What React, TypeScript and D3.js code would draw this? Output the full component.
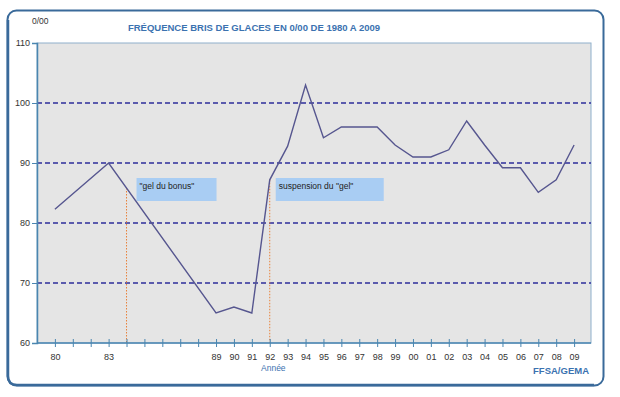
import { useEffect, useRef } from 'react';
import * as d3 from 'd3';

// Fréquence bris de glaces (0/00), années disponibles
const years = [
  1980, 1983, 1989, 1990, 1991, 1992, 1993, 1994, 1995, 1996, 1997, 1998,
  1999, 2000, 2001, 2002, 2003, 2004, 2005, 2006, 2007, 2008, 2009,
];
const values = [
  82.3, 90, 65, 66, 65, 87.2, 92.8, 103, 94.2, 96, 96, 96,
  93, 91, 91, 92.2, 97, 93, 89.2, 89.2, 85.1, 87.2, 93,
];
const yTicks = [60, 70, 80, 90, 100, 110];
const gridValues = [70, 80, 90, 100];
const eventYears = [1984, 1992];
const eventLabels = ['"gel du bonus"', 'suspension du "gel"'];

const TITLE = 'FRÉQUENCE BRIS DE GLACES EN 0/00 DE 1980 A 2009';
const FONT = '"Liberation Sans", Arial, sans-serif';
const COLORS = {
  frame: '#3a6a9a',
  plotBg: '#e5e5e5',
  axis: '#4a86b0',
  grid: '#2e2e9a',
  line: '#56568f',
  event: '#e8823a',
  box: '#a9cdf3',
  title: '#3b72b0',
  text: '#333333',
};

export default function App() {
  const svgRef = useRef<SVGSVGElement>(null);
  const width = 620;
  const height = 397;

  useEffect(() => {
    if (!svgRef.current) return;
    const svg = d3.select(svgRef.current);
    svg.selectAll('*').remove();

    const plot = { left: 37, top: 43, right: 591, bottom: 343 };

    const x = d3.scaleLinear().domain([1979, 2010]).range([plot.left, plot.right + 1]);
    const y = d3.scaleLinear().domain([60, 110]).range([plot.bottom, plot.top]);

    // outer frame, with a heavier left/bottom edge
    svg
      .append('rect')
      .attr('x', 7.5)
      .attr('y', 10.5)
      .attr('width', 596)
      .attr('height', 375)
      .attr('rx', 9)
      .attr('fill', '#ffffff')
      .attr('stroke', COLORS.frame)
      .attr('stroke-width', 2);
    svg
      .append('path')
      .attr('d', 'M8,20 V376 Q8,385 17,385 H594')
      .attr('fill', 'none')
      .attr('stroke', COLORS.frame)
      .attr('stroke-width', 2.5);

    // plot background
    svg
      .append('rect')
      .attr('x', plot.left)
      .attr('y', plot.top)
      .attr('width', plot.right - plot.left)
      .attr('height', plot.bottom - plot.top)
      .attr('fill', COLORS.plotBg)
      .attr('stroke', '#8fb0cc')
      .attr('stroke-width', 1);

    // grid lines
    svg
      .selectAll('line.grid')
      .data(gridValues)
      .join('line')
      .attr('class', 'grid')
      .attr('x1', plot.left)
      .attr('x2', plot.right)
      .attr('y1', (d) => y(d))
      .attr('y2', (d) => y(d))
      .attr('stroke', COLORS.grid)
      .attr('stroke-width', 1.3)
      .attr('stroke-dasharray', '5,3');

    // event markers (dotted orange)
    const valueAt = (yr: number) => {
      const i = d3.bisectLeft(years, yr);
      if (years[i] === yr) return values[i];
      const t = (yr - years[i - 1]) / (years[i] - years[i - 1]);
      return values[i - 1] + t * (values[i] - values[i - 1]);
    };

    svg
      .selectAll('line.event')
      .data(eventYears)
      .join('line')
      .attr('class', 'event')
      .attr('x1', (d) => x(d))
      .attr('x2', (d) => x(d))
      .attr('y1', (d) => y(valueAt(d)))
      .attr('y2', plot.bottom)
      .attr('stroke', COLORS.event)
      .attr('stroke-width', 1)
      .attr('stroke-dasharray', '1.5,1.5');

    // event boxes
    const boxWidths = [80, 108];
    const boxOffsets = [10, 6];
    const boxes = svg
      .selectAll('g.evbox')
      .data(eventLabels)
      .join('g')
      .attr('class', 'evbox')
      .attr('transform', (_, i) => `translate(${x(eventYears[i]) + boxOffsets[i]},${y(87.5)})`);

    boxes
      .append('rect')
      .attr('width', (_, i) => boxWidths[i])
      .attr('height', 23)
      .attr('fill', COLORS.box);

    boxes
      .append('text')
      .attr('x', 3)
      .attr('y', 11)
      .attr('font-family', FONT)
      .attr('font-size', 8.5)
      .attr('fill', '#222')
      .text((d) => d);

    // data line
    const line = d3
      .line<number>()
      .x((_, i) => x(years[i]))
      .y((d) => y(d));

    svg
      .append('path')
      .datum(values)
      .attr('d', line)
      .attr('fill', 'none')
      .attr('stroke', COLORS.line)
      .attr('stroke-width', 1.4)
      .attr('stroke-linejoin', 'miter');

    // y axis
    const yAxis = svg
      .append('g')
      .attr('transform', `translate(${plot.left},0)`)
      .call(d3.axisLeft(y).tickValues(yTicks).tickSize(5).tickPadding(2));
    yAxis.select('.domain').attr('stroke', COLORS.axis).attr('stroke-width', 1.5);
    yAxis.selectAll('.tick line').attr('stroke', COLORS.axis);
    yAxis
      .selectAll('text')
      .attr('font-family', FONT)
      .attr('font-size', 9)
      .attr('fill', COLORS.text);

    // x axis
    const tickYears = d3.range(1980, 2010);
    const labelSet = new Set(years);
    const xAxis = svg
      .append('g')
      .attr('transform', `translate(0,${plot.bottom})`)
      .call(
        d3
          .axisBottom(x)
          .tickValues(tickYears)
          .tickSize(4)
          .tickPadding(7)
          .tickFormat((d) => (labelSet.has(+d) ? String(+d % 100).padStart(2, '0') : ''))
      );
    xAxis
      .select('.domain')
      .attr('d', `M${plot.left},0H${plot.right}`)
      .attr('stroke', COLORS.axis)
      .attr('stroke-width', 1.5);
    xAxis
      .selectAll('.tick line')
      .attr('y1', -4)
      .attr('stroke', COLORS.axis);
    xAxis
      .selectAll('text')
      .attr('font-family', FONT)
      .attr('font-size', 9)
      .attr('fill', COLORS.text);

    // titles and labels
    svg
      .append('text')
      .attr('x', 254)
      .attr('y', 31)
      .attr('text-anchor', 'middle')
      .attr('font-family', FONT)
      .attr('font-weight', 'bold')
      .attr('font-size', 9.5)
      .attr('fill', COLORS.title)
      .text(TITLE);

    svg
      .append('text')
      .attr('x', 32)
      .attr('y', 24)
      .attr('font-family', FONT)
      .attr('font-size', 8.5)
      .attr('fill', COLORS.text)
      .text('0/00');

    svg
      .append('text')
      .attr('x', x(1992.2))
      .attr('y', 371)
      .attr('text-anchor', 'middle')
      .attr('font-family', FONT)
      .attr('font-size', 8.5)
      .attr('fill', COLORS.title)
      .text('Année');

    svg
      .append('text')
      .attr('x', 589)
      .attr('y', 374)
      .attr('text-anchor', 'end')
      .attr('font-family', FONT)
      .attr('font-weight', 'bold')
      .attr('font-size', 9.5)
      .attr('fill', COLORS.title)
      .text('FFSA/GEMA');
  }, []);

  return (
    <svg
      ref={svgRef}
      width={width}
      height={height}
      style={{ position: 'absolute', left: 0, top: 0, background: '#fff' }}
    />
  );
}
